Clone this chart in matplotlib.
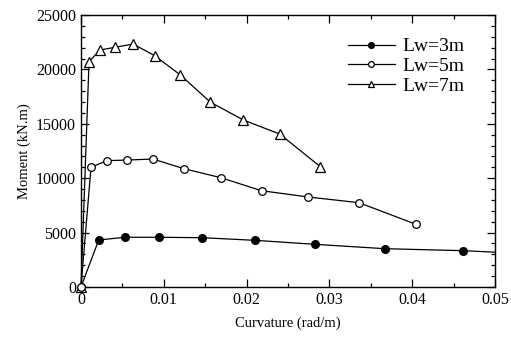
import matplotlib
matplotlib.use("Agg")
import matplotlib.pyplot as plt
from matplotlib.ticker import MultipleLocator

plt.rcParams["font.family"] = ["Liberation Serif", "DejaVu Serif"]

# moment-curvature data for three wall lengths
curv_3m = [0, 0.00214, 0.0053, 0.0094, 0.01465, 0.021, 0.0283, 0.0367, 0.0461, 0.055]
mom_3m = [0, 4320, 4570, 4570, 4530, 4290, 3920, 3520, 3340, 3020]

curv_5m = [0, 0.00121, 0.0031, 0.0056, 0.0087, 0.01244, 0.01687, 0.0218, 0.02745, 0.03357, 0.04046]
mom_5m = [0, 11000, 11610, 11670, 11760, 10870, 10050, 8850, 8270, 7750, 5760]

curv_7m = [0, 0.00097, 0.0023, 0.0041, 0.0063, 0.0089, 0.012, 0.0156, 0.0196, 0.024, 0.0289]
mom_7m = [0, 20710, 21780, 22030, 22330, 21260, 19490, 17000, 15350, 14060, 11060]

fig = plt.figure(figsize=(5.11, 3.40), dpi=100)
ax = fig.add_axes([0.1585, 0.1559, 0.8102, 0.80])

ax.plot(curv_3m, mom_3m, "-o", color="black", lw=0.9, ms=5.5,
        mfc="black", mec="black", label="Lw=3m")
ax.plot(curv_5m, mom_5m, "-o", color="black", lw=0.9, ms=5.5,
        mfc="white", mec="black", mew=0.9, label="Lw=5m", clip_on=False, zorder=4)
ax.plot(curv_7m, mom_7m, "-^", color="black", lw=0.9, ms=6.5,
        mfc="white", mec="black", mew=0.9, label="Lw=7m", clip_on=False, zorder=3)

ax.set_xlim(0, 0.05)
ax.set_ylim(0, 25000)
ax.xaxis.set_major_locator(MultipleLocator(0.01))
ax.xaxis.set_minor_locator(MultipleLocator(0.005))
ax.yaxis.set_major_locator(MultipleLocator(5000))
ax.yaxis.set_minor_locator(MultipleLocator(1000))
ax.xaxis.set_ticks([0, 0.01, 0.02, 0.03, 0.04, 0.05])
ax.set_xticklabels(["0", "0.01", "0.02", "0.03", "0.04", "0.05"])
ax.tick_params(which="both", direction="in", top=True, right=True, labelsize=11.5, width=0.9)
ax.tick_params(which="major", length=6)
ax.tick_params(which="minor", length=3)
for s in ax.spines.values():
    s.set_linewidth(1.0)

ax.set_xlabel("Curvature (rad/m)", fontsize=10.5, labelpad=6)
ax.set_ylabel("Moment (kN.m)", fontsize=10.5, labelpad=4)

ax.legend(loc="upper right", bbox_to_anchor=(0.945, 0.945), frameon=False, fontsize=14,
          markerscale=0.75, handlelength=2.4, handletextpad=0.4, labelspacing=0.12,
          borderaxespad=0)

fig.savefig("out.png", dpi=100)
